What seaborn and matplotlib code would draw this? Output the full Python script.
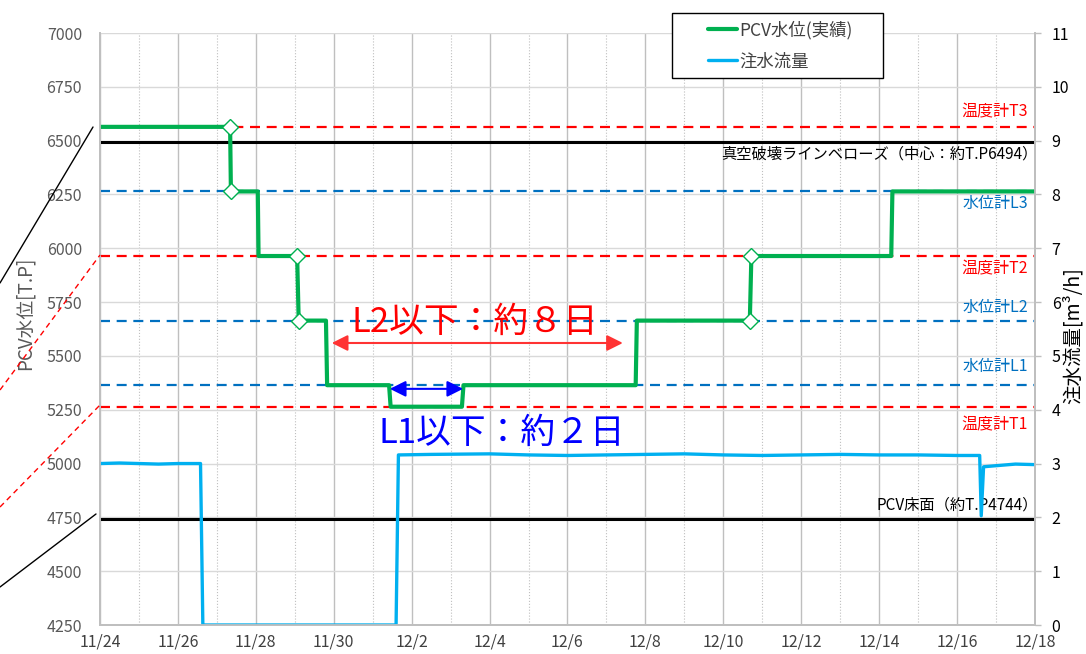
import numpy as np
import pandas as pd
import matplotlib
matplotlib.use("Agg")
import matplotlib.pyplot as plt
import matplotlib.dates as mdates
from matplotlib.lines import Line2D
from matplotlib.legend_handler import HandlerTuple
from matplotlib.ticker import FixedLocator, FuncFormatter, MultipleLocator
import seaborn as sns

start = pd.Timestamp("2022-11-24")
end = pd.Timestamp("2022-12-18")

# PCV水位(実績): days since 11/24, T.P
level_days = [0.0, 3.34, 3.36, 4.05, 4.07, 5.06, 5.10, 5.80, 5.83, 7.42, 7.46,
              9.29, 9.33, 13.75, 13.78, 16.68, 16.72, 20.31, 20.34, 24.0]
level_tp = [6564, 6564, 6264, 6264, 5964, 5964, 5664, 5664, 5364, 5364, 5264,
            5264, 5364, 5364, 5664, 5664, 5964, 5964, 6264, 6264]
marker_idx = [1, 2, 5, 6, 15, 16]

# 注水流量 [m3/h]
flow_days = [0.0, 0.5, 1.0, 1.5, 2.0, 2.58, 2.64, 7.60, 7.66, 8.5, 10.0, 11.0,
             12.0, 13.0, 14.0, 15.0, 16.0, 17.0, 18.0, 19.0, 20.0, 21.0, 22.0,
             22.58, 22.62, 22.68, 23.0, 23.5, 24.0]
flow_m3h = [3.00, 3.01, 3.00, 2.99, 3.00, 3.00, 0.0, 0.0, 3.16, 3.17, 3.18, 3.16,
            3.15, 3.16, 3.17, 3.18, 3.16, 3.15, 3.16, 3.17, 3.16, 3.16, 3.15,
            3.15, 2.03, 2.94, 2.96, 2.99, 2.98]

# reference levels
ref_names = ["温度計T3", "真空破壊ラインベローズ（中心：約T.P6494）", "水位計L3",
             "温度計T2", "水位計L2", "水位計L1", "温度計T1", "PCV床面（約T.P4744）"]
ref_tp = [6564, 6494, 6264, 5964, 5664, 5364, 5264, 4744]
ref_kind = ["T", "B", "L", "T", "L", "L", "T", "B"]

# below-level spans
span_text = ["L2以下：約８日", "L1以下：約２日"]
span_from = [5.95, 7.44]
span_to = [13.42, 9.32]

GREEN = "#00B050"
CYAN = "#00B0F0"
kind_style = {
    "T": dict(color="#FF0000", lw=1.6, ls=(0, (4.5, 3)), fs=11.5, dx=-5),
    "L": dict(color="#0070C0", lw=1.6, ls=(0, (4.5, 3)), fs=11.5, dx=-5),
    "B": dict(color="black", lw=2.2, ls="-", fs=11, dx=2),
}
label_dy = [11, -9, -9, -9.5, 9.5, 13.5, -13, 9.5]

def to_date(days):
    return start + pd.to_timedelta(np.asarray(days), unit="D")

sns.set_theme(style="white")
plt.rcParams["font.family"] = ["Noto Sans CJK JP", "DejaVu Sans"]

fig = plt.figure(figsize=(10.86, 6.54), dpi=100)
W, H = 1086, 654
fig.subplots_adjust(left=100 / W, right=1035 / W, bottom=29 / H, top=621 / H)
ax = fig.add_subplot(111)
ax2 = ax.twinx()

level_df = pd.DataFrame({"date": to_date(level_days), "tp": level_tp})
flow_df = pd.DataFrame({"date": to_date(flow_days), "flow": flow_m3h})

for name, tp, kind, dy in zip(ref_names, ref_tp, ref_kind, label_dy):
    st = kind_style[kind]
    ax.axhline(tp, color=st["color"], lw=st["lw"], ls=st["ls"], zorder=2)
    ax.annotate(name, xy=(1, tp), xycoords=ax.get_yaxis_transform(),
                xytext=(st["dx"], dy), textcoords="offset points", ha="right",
                va="center", fontsize=st["fs"], color=st["color"], zorder=5,
                annotation_clip=False)

sns.lineplot(data=level_df, x="date", y="tp", ax=ax, color=GREEN, lw=3,
             marker="D", markevery=marker_idx, markersize=8,
             markerfacecolor="white", markeredgecolor=GREEN, markeredgewidth=1,
             zorder=4, legend=False)
sns.lineplot(data=flow_df, x="date", y="flow", ax=ax2, color=CYAN, lw=2.4,
             legend=False)

# spans below L2 / L1
span_y = [5560, 5347]
text_y = [5658, 5142]
text_x = [9.63, 10.32]
span_col = [("#FF0000", "#FF3333"), ("#0000FF", "#0000FF")]
for txt, d0, d1, ay, ty, tx, (tc, ac) in zip(span_text, span_from, span_to, span_y,
                                              text_y, text_x, span_col):
    ax.annotate("", xy=(to_date([d1])[0], ay), xytext=(to_date([d0])[0], ay),
                arrowprops=dict(arrowstyle="<|-|>", color=ac, lw=1.5,
                                mutation_scale=24, shrinkA=0, shrinkB=0),
                zorder=6)
    ax.text(to_date([tx])[0], ty, txt, fontsize=25, color=tc, ha="center",
            va="center", zorder=6)

# axes
ax.set_xlim(start, end)
ax.set_ylim(4250, 7000)
ax2.set_ylim(0, 11)
ax.yaxis.set_major_locator(MultipleLocator(250))
ax2.yaxis.set_major_locator(MultipleLocator(1))
ax.xaxis.set_major_locator(FixedLocator(mdates.date2num(pd.date_range(start, end, freq="2D"))))
ax.xaxis.set_minor_locator(FixedLocator(mdates.date2num(pd.date_range(start, end, freq="D"))))
ax.xaxis.set_major_formatter(FuncFormatter(
    lambda v, p: f"{mdates.num2date(v).month}/{mdates.num2date(v).day}"))

ax.grid(axis="y", color="#D9D9D9", lw=1)
ax.grid(axis="x", which="major", color="#BFBFBF", lw=1)
ax.grid(axis="x", which="minor", color="#BFBFBF", lw=0.8, ls=":")
ax.set_axisbelow(True)
ax2.grid(False)

ax.tick_params(axis="y", length=0, pad=13, labelsize=11.5, labelcolor="#595959")
ax.tick_params(axis="x", which="both", length=0, pad=6, labelsize=11.5,
               labelcolor="#404040")
ax2.tick_params(axis="y", length=4, width=1, color="#BFBFBF", pad=8,
                labelsize=11.5, labelcolor="black")

for a in (ax, ax2):
    a.spines["top"].set_visible(False)
    for side in ("left", "right", "bottom"):
        a.spines[side].set_color("#BFBFBF")
        a.spines[side].set_linewidth(1.3)

ax.set_xlabel("")
ax.set_ylabel("PCV水位[T.P]", fontsize=13.5, color="#595959", ha="center", va="center")
ax.yaxis.set_label_coords(-0.080, 0.527)
ax2.set_ylabel("注水流量[m³/h]", fontsize=14, color="black", rotation=90,
               ha="center", va="center")
ax2.yaxis.set_label_coords(1.041, 0.488)

blank = Line2D([], [], color="none")
handles = [(blank, Line2D([], [], color=GREEN, lw=3)),
           (blank, Line2D([], [], color=CYAN, lw=2.4))]
leg = ax2.legend(handles, ["PCV水位(実績)", "注水流量"], loc="upper left",
                 bbox_to_anchor=(672 / W, 1 - 79 / H, 211 / W, 66 / H),
                 bbox_transform=fig.transFigure, mode="expand", borderaxespad=0,
                 fancybox=False, edgecolor="black", framealpha=1, fontsize=12.5,
                 handlelength=3.3, handletextpad=0.12, labelspacing=0.75,
                 borderpad=0.45,
                 handler_map={tuple: HandlerTuple(ndivide=None, pad=0)})
leg.get_frame().set_linewidth(1.0)
for t in leg.get_texts():
    t.set_color("#404040")

# scale-break style guide lines outside the plot
guides = [((0, 283), (93, 127), "black", "-"),
          ((0, 587), (96, 514), "black", "-"),
          ((0, 390), (100, 255), "#FF0000", (0, (4, 3))),
          ((0, 507), (100, 405), "#FF0000", (0, (4, 3)))]
for (x0, y0), (x1, y1), c, ls in guides:
    fig.add_artist(Line2D([x0 / W, x1 / W], [1 - y0 / H, 1 - y1 / H],
                          transform=fig.transFigure, color=c, lw=1, ls=ls))

plt.savefig("out.png", dpi=100)
